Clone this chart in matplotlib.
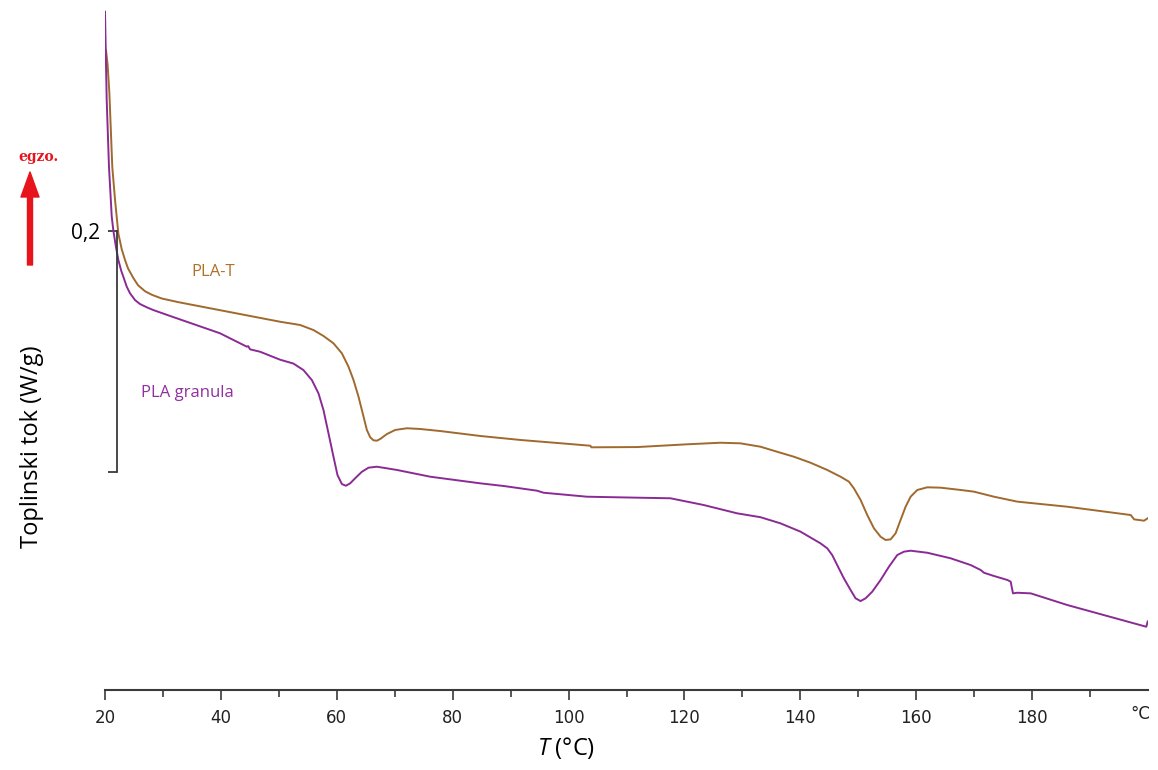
import matplotlib.pyplot as plt
import numpy as np

plt.rcParams["mathtext.fontset"] = "custom"
plt.rcParams["mathtext.it"] = "Open Sans:italic"
plt.rcParams["mathtext.rm"] = "Open Sans"

# DSC krivulje (T u °C, toplinski tok u W/g, pomak proizvoljan)
t_plat = [20.17, 20.45, 20.75, 21.26, 21.73, 22.30, 22.88, 23.45, 23.97, 24.89,
          25.70, 26.91, 28.12, 29.79, 32.61, 41.24, 50.22, 53.68, 55.98, 57.70,
          59.43, 60.88, 62.02, 62.89, 63.75, 64.62, 65.19, 65.77, 66.34, 66.92,
          67.50, 68.65, 70.09, 72.11, 74.40, 77.86, 84.77, 91.67, 100.31, 103.76,
          103.94, 111.83, 120.46, 126.22, 129.67, 133.12, 136.0, 138.88, 141.76, 144.64,
          146.94, 148.38, 149.24, 150.40, 151.55, 152.70, 153.85, 154.71, 155.58, 156.44,
          157.30, 158.17, 159.03, 160.19, 161.91, 164.21, 167.67, 169.96, 173.42, 177.46,
          186.09, 197.03, 197.60, 199.32, 199.95]
q_plat = [0.350, 0.338, 0.315, 0.253, 0.226, 0.198, 0.185, 0.176, 0.169, 0.161,
          0.155, 0.150, 0.147, 0.144, 0.141, 0.133, 0.1247, 0.122, 0.1178, 0.1129,
          0.1068, 0.0985, 0.0874, 0.0763, 0.0625, 0.0459, 0.0349, 0.0288, 0.0263, 0.0260,
          0.0274, 0.0315, 0.0349, 0.0363, 0.0357, 0.0340, 0.0299, 0.0266, 0.0232, 0.0218,
          0.0205, 0.0207, 0.0230, 0.0243, 0.0238, 0.0210, 0.0168, 0.0127, 0.0077, 0.0017,
          -0.0039, -0.0080, -0.0135, -0.0232, -0.0357, -0.0467, -0.0537, -0.0564, -0.0559, -0.0509,
          -0.0398, -0.0288, -0.0205, -0.0149, -0.0127, -0.0130, -0.0149, -0.0163, -0.0205, -0.0246,
          -0.0288, -0.0357, -0.0393, -0.0404, -0.0384]

t_gran = [20.0, 20.29, 20.69, 21.16, 21.45, 21.85, 22.30, 22.80, 23.16, 23.75,
          24.32, 25.18, 26.04, 27.20, 28.34, 31.23, 34.11, 39.86, 44.47, 44.70,
          45.04, 46.77, 50.22, 52.52, 54.25, 55.70, 56.84, 57.70, 58.57, 59.43,
          60.12, 60.88, 61.57, 62.31, 63.17, 64.33, 65.48, 66.92, 70.38, 76.13,
          84.77, 88.79, 94.56, 95.70, 103.19, 111.83, 117.58, 120.46, 123.33, 129.10,
          133.12, 136.57, 140.03, 143.48, 144.64, 145.50, 146.36, 147.51, 148.67, 149.53,
          150.39, 151.26, 152.41, 153.85, 155.29, 156.73, 157.88, 159.03, 161.91, 165.94,
          169.39, 171.12, 171.69, 173.42, 175.73, 176.30, 176.47, 176.70, 177.46, 179.76,
          186.09, 199.70, 199.95]
q_gran = [0.382, 0.309, 0.253, 0.212, 0.200, 0.188, 0.176, 0.167, 0.1621, 0.1538,
          0.1483, 0.1427, 0.1394, 0.1367, 0.1344, 0.1295, 0.1247, 0.1151, 0.1040, 0.1045,
          0.1018, 0.0998, 0.0932, 0.0900, 0.0846, 0.0763, 0.0653, 0.0515, 0.0321, 0.0127,
          -0.0025, -0.0100, -0.0114, -0.0094, -0.0052, 0.0002, 0.0036, 0.0044, 0.0017, -0.0039,
          -0.0094, -0.0116, -0.0155, -0.0172, -0.0205, -0.0213, -0.0218, -0.0246, -0.0274, -0.0343,
          -0.0375, -0.0426, -0.0495, -0.0592, -0.0633, -0.0689, -0.0772, -0.0882, -0.0979, -0.1048,
          -0.1071, -0.1048, -0.0993, -0.0896, -0.0786, -0.0689, -0.0661, -0.0653, -0.0670, -0.0716,
          -0.0772, -0.0813, -0.0836, -0.0863, -0.0896, -0.0910, -0.0952, -0.1007, -0.1002, -0.1007,
          -0.1104, -0.1284, -0.1240]

major_ticks = [20, 40, 60, 80, 100, 120, 140, 160, 180]
minor_ticks = [30, 50, 70, 90, 110, 130, 150, 170, 190]
skala = 0.2  # W/g

smeda = "#a0692e"
ljubicasta = "#8a2b94"
crvena = "#e8141c"

fig = plt.figure(figsize=(11.58, 7.70), dpi=100)
ax = fig.add_axes([105 / 1158, 80 / 770, 1043 / 1158, 690 / 770])

ax.plot(t_plat, q_plat, color=smeda, lw=1.4, solid_joinstyle="round")
ax.plot(t_gran, q_gran, color=ljubicasta, lw=1.4, solid_joinstyle="round")

ax.set_xlim(20, 200)
ax.set_ylim(-0.1809, 0.3917)

# x os
ax.spines["top"].set_visible(False)
ax.spines["right"].set_visible(False)
ax.spines["bottom"].set_color("#3a3a3a")
ax.spines["bottom"].set_linewidth(1.5)
ax.set_xticks(major_ticks)
ax.set_xticks(minor_ticks, minor=True)
ax.set_xticklabels([str(t) for t in major_ticks])
ax.tick_params(axis="x", which="major", direction="out", length=7.5, width=1.2,
               color="#3a3a3a", labelsize=12, pad=6, labelcolor="#222222")
ax.tick_params(axis="x", which="minor", direction="out", length=5, width=1.2, color="#3a3a3a")
ax.annotate("°C", xy=(198.6, 0), xycoords=("data", "axes fraction"),
            xytext=(0, -11), textcoords="offset points", ha="center", va="top",
            fontsize=12, color="#222222")

# y os kao mjerilo 0,2 W/g
ax.spines["left"].set_position(("data", 22.07))
ax.spines["left"].set_bounds(0, skala)
ax.spines["left"].set_color("#3a3a3a")
ax.spines["left"].set_linewidth(1.3)
ax.set_yticks([0, skala])
ax.set_yticklabels(["", "0,2"], fontfamily="Open Sans", fontsize=15)
ax.tick_params(axis="y", direction="out", length=6.5, width=1.3, color="#3a3a3a", pad=6)

ax.set_xlabel(r"$T$ (°C)", fontfamily="Open Sans", fontsize=17)
ax.xaxis.set_label_coords(0.442, -0.084)
ax.xaxis.label.set_va("center")
ax.set_ylabel("Toplinski tok (W/g)", fontfamily="Open Sans", fontsize=17)
ax.yaxis.set_label_coords(-0.070, 0.352)
ax.yaxis.label.set_va("center")

ax.text(38.65, 0.166, "PLA-T", color="#b0702a", fontfamily="Open Sans",
        fontsize=12, ha="center", va="center")
ax.text(34.16, 0.0656, "PLA granula", color="#9030a0", fontfamily="Open Sans",
        fontsize=12, ha="center", va="center")

# strelica egzo.
ax.annotate("", xy=(30, 598), xycoords="figure pixels", xytext=(30, 505),
            textcoords="figure pixels",
            arrowprops=dict(width=3.6, headwidth=13, headlength=18, color=crvena, shrink=0))
fig.text(38 / 1158, 613 / 770, "egzo.", color=crvena, fontfamily="DejaVu Serif",
         fontweight="bold", fontsize=10, ha="center", va="center")

plt.savefig("out.png", dpi=100)
